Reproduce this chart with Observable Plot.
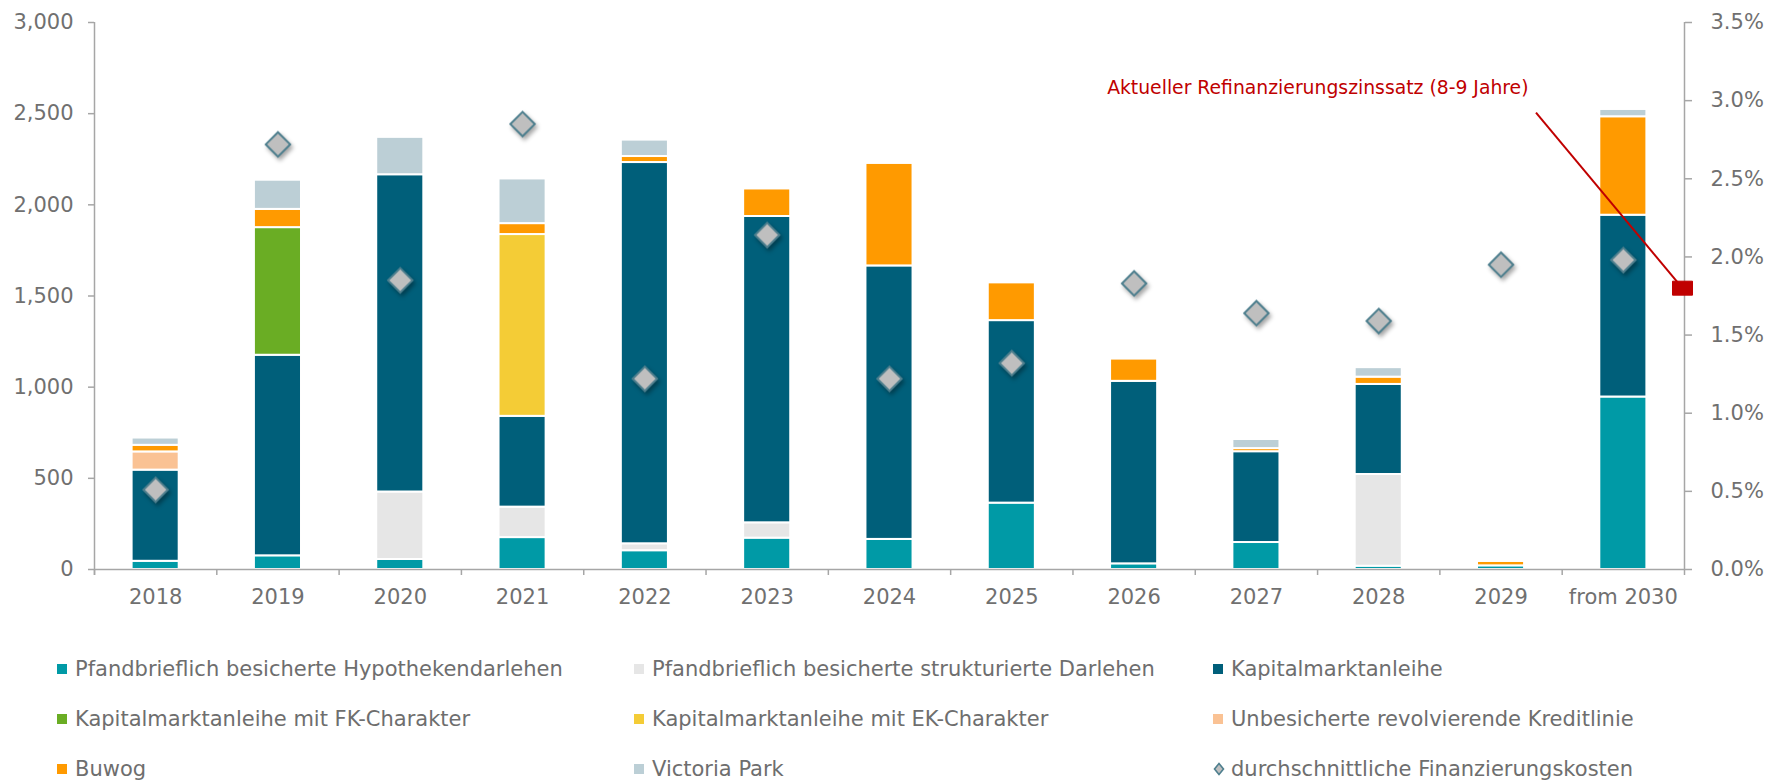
<!DOCTYPE html>
<html><head><meta charset="utf-8">
<script src="https://cdn.jsdelivr.net/npm/d3@7"></script>
<script src="https://cdn.jsdelivr.net/npm/@observablehq/plot@0.6"></script>
<style>
body{margin:0;background:#fff;font-family:"DejaVu Sans",sans-serif;}
#chart svg{display:block}
g[aria-label="dot"].cost{filter:drop-shadow(2px 3px 2px rgba(0,0,0,0.35));}
.legend{display:grid;grid-template-columns:577px 579px auto;padding:24px 0 0 57px;color:#6e6e6e;font-size:21px;}
.legend .item{height:50px;display:flex;align-items:center;white-space:nowrap}
.legend .sw{width:10px;height:10px;margin-right:8px;flex:none}
.legend svg{margin-right:6px;flex:none}
</style></head><body>
<div id="chart"></div>
<div class="legend" id="legend"></div>
<script>
// ---- data ----
const categories = ["2018","2019","2020","2021","2022","2023","2024","2025","2026","2027","2028","2029","from 2030"];
const seriesNames = [
  "Pfandbrieflich besicherte Hypothekendarlehen",
  "Pfandbrieflich besicherte strukturierte Darlehen",
  "Kapitalmarktanleihe",
  "Kapitalmarktanleihe mit FK-Charakter",
  "Kapitalmarktanleihe mit EK-Charakter",
  "Unbesicherte revolvierende Kreditlinie",
  "Buwog",
  "Victoria Park"
];
const seriesColors = ["#009AA6","#E6E6E6","#005F7A","#6AAD24","#F4CC36","#FAC294","#FF9A00","#BCCFD6"];
const hypothek     = [45, 75, 55, 175, 103, 172, 165, 364, 31, 148, 18, 20, 946];
const strukturiert = [0, 0, 370, 167, 38, 84, 0, 0, 0, 0, 503, 0, 0];
const kapital      = [500, 1100, 1740, 498, 2091, 1680, 1500, 1001, 1001, 498, 494, 0, 997];
const fkCharakter  = [0, 700, 0, 0, 0, 0, 0, 0, 0, 0, 0, 0, 0];
const ekCharakter  = [0, 0, 0, 997, 0, 0, 0, 0, 0, 0, 0, 0, 0];
const unbesichert  = [100, 0, 0, 0, 0, 0, 0, 0, 0, 0, 0, 0, 0];
const buwog        = [36, 100, 0, 60, 33, 151, 562, 207, 122, 17, 40, 24, 540];
const victoria     = [40, 160, 205, 245, 90, 0, 0, 0, 0, 50, 52, 0, 40];
const costLabel = "durchschnittliche Finanzierungskosten";
const costs = [0.51, 2.72, 1.85, 2.85, 1.22, 2.14, 1.22, 1.32, 1.83, 1.64, 1.59, 1.95, 1.98]; // %
const refLabel = "Aktueller Refinanzierungszinssatz (8-9 Jahre)";
const refRate = 1.80; // %
const leftTicks = [0, 500, 1000, 1500, 2000, 2500, 3000];
const pctTicks = [0, 0.5, 1.0, 1.5, 2.0, 2.5, 3.0, 3.5];

// ---- layout ----
const W = 1765, H = 620, ML = 94, MR = 81, MT = 22, MB = 51;
const yMax = 3000, pctMax = 3.5;
const toLeft = p => p * yMax / pctMax;
const step = (W - ML - MR) / categories.length;
const axisColor = "#A6A6A6", textColor = "#707070", red = "#C00000";
const fmtThousands = d3.format(",");

const seriesValues = [hypothek, strukturiert, kapital, fkCharakter, ekCharakter, unbesichert, buwog, victoria];
const rows = [];
seriesNames.forEach((s, k) => seriesValues[k].forEach((v, i) => {
  if (v > 0) rows.push({year: categories[i], series: s, value: v});
}));
const costRows = categories.map((c, i) => ({year: c, cost: costs[i]}));

const rectSymbol = {draw(ctx) { ctx.moveTo(-10, -7); ctx.lineTo(10, -7); ctx.lineTo(10, 7); ctx.lineTo(-10, 7); ctx.closePath(); }};

const plot = Plot.plot({
  width: W, height: H, marginLeft: ML, marginRight: MR, marginTop: MT, marginBottom: MB,
  style: {fontFamily: "DejaVu Sans", fontSize: "21px", color: textColor, background: "white"},
  x: {type: "band", domain: categories, paddingInner: 0.615, paddingOuter: 0.3075, align: 0.5, round: false, label: null},
  y: {domain: [0, yMax], label: null},
  color: {domain: seriesNames, range: seriesColors},
  marks: [
    Plot.barY(rows, {x: "year", y: "value", fill: "series", order: seriesNames, stroke: "white", strokeWidth: 2}),
    Plot.ruleY([0], {stroke: axisColor, strokeWidth: 1.5}),
    Plot.ruleX(categories, {x: d => d, y1: 0, y2: 0, insetBottom: -6, dx: -step / 2, stroke: axisColor, strokeWidth: 1.5}),
    Plot.ruleX([categories[0]], {x: d => d, y1: yMax, y2: 0, insetBottom: -6, dx: -step / 2, stroke: axisColor, strokeWidth: 1.5}),
    Plot.ruleX([categories[categories.length - 1]], {x: d => d, y1: yMax, y2: 0, insetBottom: -6, dx: step / 2, stroke: axisColor, strokeWidth: 1.5}),
    Plot.axisY(leftTicks, {anchor: "left", label: null, tickSize: 6, tickPadding: 15, tickFormat: d => fmtThousands(d), stroke: axisColor, strokeWidth: 1.5, fill: textColor}),
    Plot.axisY(pctTicks.map(toLeft), {anchor: "right", label: null, tickSize: 7, tickPadding: 19, tickFormat: v => (v / yMax * pctMax).toFixed(1) + "%", stroke: axisColor, strokeWidth: 1.5, fill: textColor}),
    Plot.axisX({label: null, tickSize: 0, tickPadding: 20, fill: textColor}),
    Plot.dot(costRows, {x: "year", y: d => toLeft(d.cost), symbol: "diamond2", r: 11, fill: "#BFBFBF", stroke: "#4E7F8E", strokeWidth: 2}),
    Plot.text([refLabel], {text: d => d, frameAnchor: "right", y: toLeft(3.08), dx: -156, textAnchor: "end", fill: red, fontSize: 18.8}),
    Plot.dot([refRate], {frameAnchor: "right", y: d => toLeft(d), dx: -2, symbol: rectSymbol, fill: red, stroke: red, strokeWidth: 1, strokeLinejoin: "round"})
  ]
});
document.getElementById("chart").appendChild(plot);

// shadow on the cost diamonds (first dot group)
const dotGroups = plot.querySelectorAll('g[aria-label="dot"]');
if (dotGroups.length) dotGroups[0].classList.add("cost");

// annotation leader line, positioned through the plot's y scale
const ys = plot.scale("y");
d3.select(plot).append("line")
  .attr("x1", W - MR - 148).attr("y1", ys.apply(toLeft(2.92)))
  .attr("x2", W - MR - 2).attr("y2", ys.apply(toLeft(refRate)))
  .attr("stroke", red).attr("stroke-width", 2);

// legend
const legend = document.getElementById("legend");
seriesNames.forEach((s, k) => {
  const it = document.createElement("div"); it.className = "item";
  it.innerHTML = `<span class="sw" style="background:${seriesColors[k]}"></span><span>${s}</span>`;
  legend.appendChild(it);
});
const dm = document.createElement("div"); dm.className = "item";
dm.innerHTML = `<svg width="12" height="14" viewBox="0 0 12 14"><polygon points="6,1.5 10.5,7 6,12.5 1.5,7" fill="#BFBFBF" stroke="#4E7F8E" stroke-width="1.6"/></svg><span>${costLabel}</span>`;
legend.appendChild(dm);
</script>
</body></html>
